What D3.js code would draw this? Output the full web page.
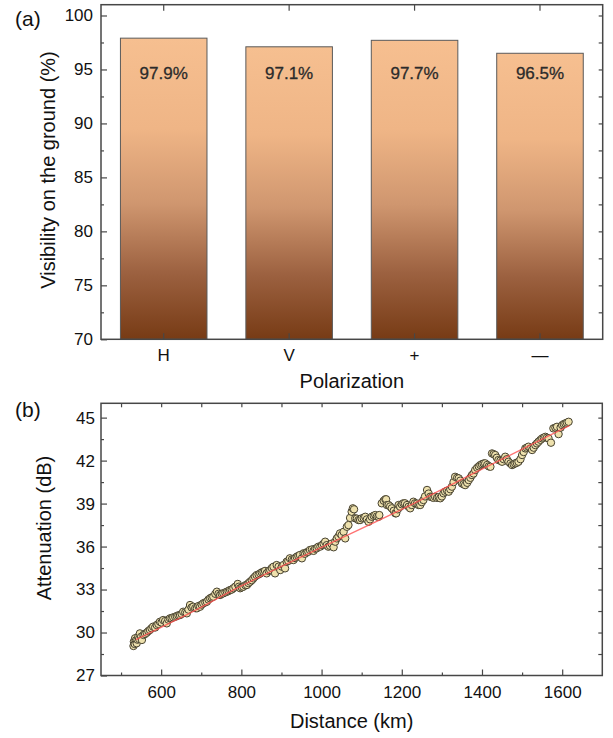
<!DOCTYPE html>
<html>
<head>
<meta charset="utf-8">
<script src="https://cdn.jsdelivr.net/npm/d3@7"></script>
<style>
  body { margin: 0; background: #fff; }
  svg { display: block; font-family: "Liberation Sans", Arial, sans-serif; }
</style>
</head>
<body>
<div id="chart"></div>
<script>
// (a) visibility per polarization
const polarizations = ["H", "V", "+", "\u2014"];
const visibility = [97.9, 97.1, 97.7, 96.5];
const visTicks = [70, 75, 80, 85, 90, 95, 100];

// (b) attenuation vs distance
const distance = [531, 532, 534, 535, 537, 539, 541, 543, 545, 547, 550, 552, 556, 560, 564, 568, 572, 576, 580, 585,
  589, 593, 597, 601, 605, 610, 614, 618, 622, 626, 630, 635, 639, 643, 647, 651, 655, 660, 664, 668,
  672, 676, 680, 685, 689, 693, 697, 701, 705, 710, 714, 718, 722, 726, 730, 735, 739, 743, 747, 751,
  755, 760, 764, 768, 772, 776, 780, 785, 791, 794, 797, 801, 805, 810, 814, 818, 822, 826, 830, 834,
  838, 843, 847, 851, 855, 859, 863, 868, 872, 876, 880, 884, 888, 893, 897, 901, 905, 909, 913, 917,
  921, 926, 930, 934, 938, 942, 946, 951, 955, 959, 963, 967, 971, 976, 980, 984, 988, 992, 997, 1001,
  1005, 1009, 1013, 1017, 1021, 1025, 1030, 1034, 1038, 1042, 1046, 1050, 1055, 1059, 1063, 1067, 1071, 1075, 1078, 1081,
  1084, 1088, 1092, 1096, 1100, 1105, 1109, 1113, 1117, 1121, 1125, 1130, 1134, 1138, 1142, 1144, 1150, 1155, 1159, 1161,
  1163, 1167, 1171, 1175, 1180, 1184, 1186, 1190, 1192, 1196, 1200, 1204, 1208, 1213, 1217, 1221, 1225, 1229, 1233, 1238,
  1242, 1246, 1250, 1254, 1258, 1263, 1267, 1271, 1275, 1279, 1283, 1288, 1292, 1296, 1300, 1304, 1308, 1313, 1317, 1321,
  1325, 1329, 1333, 1338, 1342, 1346, 1350, 1354, 1358, 1363, 1367, 1371, 1375, 1379, 1383, 1388, 1392, 1396, 1400, 1404,
  1408, 1413, 1417, 1421, 1425, 1429, 1433, 1437, 1441, 1446, 1450, 1454, 1458, 1462, 1466, 1471, 1475, 1479, 1483, 1487,
  1491, 1496, 1500, 1504, 1508, 1512, 1516, 1521, 1525, 1529, 1533, 1537, 1541, 1546, 1550, 1554, 1558, 1562, 1566, 1572,
  1578, 1583, 1587, 1591, 1596, 1600, 1604, 1608, 1612, 1616];
const attenuation = [29.06, 29.36, 29.2, 29.6, 29.45, 29.25, 29.5, 29.71, 29.55, 29.94, 29.7, 29.48, 29.83, 29.9, 29.99, 30.1, 30.18, 30.3, 30.41, 30.35,
  30.52, 30.6, 30.75, 30.7, 30.87, 30.8, 30.64, 30.9, 30.99, 31.0, 31.06, 31.1, 31.15, 31.2, 31.22, 31.3, 31.45, 31.4, 31.34, 31.6,
  31.92, 31.75, 31.8, 31.7, 31.69, 31.85, 31.8, 31.95, 32.04, 32.1, 32.15, 32.3, 32.39, 32.45, 32.5, 32.7, 32.85, 32.7, 32.62, 32.7,
  32.74, 32.8, 32.85, 32.9, 32.97, 33.0, 33.09, 33.2, 33.39, 33.2, 33.09, 33.15, 33.2, 33.3, 33.32, 33.45, 33.55, 33.65, 33.78, 33.9,
  34.01, 34.05, 34.13, 34.2, 34.24, 34.3, 34.13, 34.3, 34.36, 34.5, 34.59, 34.13, 34.71, 34.6, 34.36, 34.6, 34.71, 34.48, 34.94, 35.0,
  35.18, 35.1, 35.06, 35.2, 35.29, 35.35, 35.41, 35.18, 35.53, 35.5, 35.6, 35.64, 35.76, 35.8, 35.7, 35.85, 35.88, 35.99, 36.0, 36.1,
  36.2, 36.34, 36.1, 35.99, 36.05, 36.2, 35.95, 36.34, 36.57, 36.7, 36.92, 36.8, 37.03, 36.57, 37.38, 37.5, 38.0, 38.43, 38.67, 38.6,
  37.97, 37.95, 37.85, 37.85, 37.97, 38.0, 38.08, 37.9, 37.73, 37.9, 38.08, 38.15, 38.2, 38.1, 38.08, 38.2, 39.02, 39.2, 39.3, 39.3,
  38.9, 38.9, 38.8, 38.67, 38.5, 38.32, 38.32, 38.6, 38.9, 38.78, 38.95, 39.02, 39.02, 38.9, 38.78, 38.67, 38.9, 39.13, 39.02, 39.0,
  38.9, 38.9, 39.1, 39.25, 39.5, 39.95, 39.7, 39.48, 39.45, 39.4, 39.48, 39.4, 39.45, 39.37, 39.5, 39.72, 39.83, 39.9, 39.83, 40.0,
  40.18, 40.5, 40.87, 40.8, 40.76, 40.6, 40.41, 40.35, 40.29, 40.45, 40.64, 40.8, 40.99, 41.1, 41.34, 41.5, 41.6, 41.69, 41.75, 41.8,
  41.81, 41.7, 41.6, 41.57, 42.5, 42.45, 42.39, 42.2, 42.04, 42.0, 41.92, 42.1, 42.27, 42.1, 41.92, 41.8, 41.69, 41.75, 41.81, 41.85,
  41.92, 42.1, 42.39, 42.6, 42.85, 42.9, 42.97, 42.85, 42.74, 42.9, 43.08, 43.2, 43.32, 43.45, 43.55, 43.6, 43.66, 43.6, 43.55, 43.25,
  44.25, 44.3, 44.36, 43.85, 44.3, 44.48, 44.55, 44.6, 44.65, 44.71];
// red fitted trend
const fitDistance = [537, 650, 800, 1000, 1200, 1400, 1618];
const fitAttenuation = [29.5, 31.05, 33.25, 35.95, 38.6, 41.4, 44.45];
const distTicks = [600, 800, 1000, 1200, 1400, 1600];
const attTicks = [27, 30, 33, 36, 39, 42, 45];

const W = 613, H = 738;
const svg = d3.select("#chart").append("svg").attr("width", W).attr("height", H);
svg.append("rect").attr("width", W).attr("height", H).attr("fill", "#fff");

const frameColor = "#474747";
const fontTick = 17, fontLabel = 20;

// gradient for the bars
const defs = svg.append("defs");
const grad = defs.append("linearGradient").attr("id", "barGrad")
  .attr("x1", 0).attr("y1", 0).attr("x2", 0).attr("y2", 1);
[[0, "#f6bf90"], [0.3, "#efb586"], [0.55, "#cf966f"], [0.78, "#9c6140"], [1, "#773b15"]]
  .forEach(s => grad.append("stop").attr("offset", s[0]).attr("stop-color", s[1]));

function styleAxis(g, size) {
  g.select(".domain").remove();
  g.selectAll(".tick line").attr("stroke", frameColor).attr("stroke-width", 1.2);
  g.selectAll(".tick text").attr("fill", "#111").style("font-size", size + "px")
    .style("font-family", "'Liberation Sans', Arial, sans-serif");
}

// ---------------- panel (a) ----------------
const a = {left: 101, right: 602.7, top: 4.7, bottom: 339.3};
const xa = d3.scaleBand().domain(polarizations).range([a.left, a.right])
  .paddingInner(0.31).paddingOuter(0.155);
const ya = d3.scaleLinear().domain([70, 101]).range([a.bottom, a.top]);
const minorA = d3.range(72.5, 101, 5);

const ga = svg.append("g");
ga.selectAll(".bar").data(polarizations).enter().append("rect")
  .attr("class", "bar")
  .attr("x", d => xa(d))
  .attr("width", xa.bandwidth())
  .attr("y", (d, i) => ya(visibility[i]))
  .attr("height", (d, i) => ya(70) - ya(visibility[i]))
  .attr("fill", "url(#barGrad)")
  .attr("stroke", "#5a5a5a").attr("stroke-width", 1);

ga.selectAll(".val").data(polarizations).enter().append("text")
  .attr("x", d => xa(d) + xa.bandwidth() / 2)
  .attr("y", ya(95) + 10)
  .attr("text-anchor", "middle")
  .attr("fill", "#2b2b2b")
  .attr("stroke", "#2b2b2b").attr("stroke-width", 0.3)
  .style("font-size", "17px")
  .text((d, i) => visibility[i].toFixed(1) + "%");

// axes (ticks point inward)
ga.append("g").attr("transform", `translate(${a.left},0)`)
  .call(d3.axisLeft(ya).tickValues(visTicks).tickSize(-6).tickPadding(8))
  .call(g => styleAxis(g, fontTick));
ga.append("g").attr("transform", `translate(${a.left},0)`)
  .call(d3.axisLeft(ya).tickValues(minorA).tickSize(-3).tickFormat(""))
  .call(g => styleAxis(g, fontTick));
ga.append("g").attr("transform", `translate(${a.right},0)`)
  .call(d3.axisRight(ya).tickValues(d3.range(72.5, 101, 2.5)).tickSize(-4).tickFormat(""))
  .call(g => styleAxis(g, fontTick));
ga.append("g").attr("transform", `translate(0,${a.bottom})`)
  .call(d3.axisBottom(xa).tickSize(-6).tickPadding(10))
  .call(g => styleAxis(g, fontTick));
ga.append("g").attr("transform", `translate(0,${a.top})`)
  .call(d3.axisTop(xa).tickSize(-6).tickFormat(""))
  .call(g => styleAxis(g, fontTick));

ga.append("rect").attr("x", a.left).attr("y", a.top)
  .attr("width", a.right - a.left).attr("height", a.bottom - a.top)
  .attr("fill", "none").attr("stroke", frameColor).attr("stroke-width", 1.5);

ga.append("text").attr("transform", "translate(55,170) rotate(-90)")
  .attr("text-anchor", "middle").style("font-size", fontLabel + "px").attr("fill", "#111")
  .text("Visibility on the ground (%)");
ga.append("text").attr("x", (a.left + a.right) / 2).attr("y", 388)
  .attr("text-anchor", "middle").style("font-size", fontLabel + "px").attr("fill", "#111")
  .text("Polarization");
ga.append("text").attr("x", 15).attr("y", 25.5)
  .style("font-size", "21px").attr("fill", "#111").text("(a)");

// ---------------- panel (b) ----------------
const b = {left: 101, right: 602.3, top: 403.3, bottom: 675.5};
const xb = d3.scaleLinear().domain([450, 1700]).range([b.left, b.right]);
const yb = d3.scaleLinear().domain([27, 46]).range([b.bottom, b.top]);
const points = distance.map((d, i) => ({d: d, v: attenuation[i]}));
const fit = fitDistance.map((d, i) => ({d: d, v: fitAttenuation[i]}));

const gb = svg.append("g");
gb.selectAll(".pt").data(points).enter().append("circle")
  .attr("class", "pt")
  .attr("cx", p => xb(p.d))
  .attr("cy", p => yb(p.v))
  .attr("r", 3.7)
  .attr("fill", "#eee1ad")
  .attr("stroke", "#46412f").attr("stroke-width", 1);

gb.append("path").datum(fit)
  .attr("d", d3.line().x(p => xb(p.d)).y(p => yb(p.v)).curve(d3.curveMonotoneX))
  .attr("fill", "none").attr("stroke", "#ff5050").attr("stroke-width", 1.4).attr("opacity", 0.8);

gb.append("g").attr("transform", `translate(${b.left},0)`)
  .call(d3.axisLeft(yb).tickValues(attTicks).tickSize(-6).tickPadding(6))
  .call(g => styleAxis(g, fontTick));
gb.append("g").attr("transform", `translate(${b.left},0)`)
  .call(d3.axisLeft(yb).tickValues(d3.range(28.5, 46, 3)).tickSize(-3).tickFormat(""))
  .call(g => styleAxis(g, fontTick));
gb.append("g").attr("transform", `translate(${b.right},0)`)
  .call(d3.axisRight(yb).tickValues(d3.range(28.5, 46, 1.5)).tickSize(-4).tickFormat(""))
  .call(g => styleAxis(g, fontTick));
gb.append("g").attr("transform", `translate(0,${b.bottom})`)
  .call(d3.axisBottom(xb).tickValues(distTicks).tickSize(-6).tickPadding(10).tickFormat(d3.format("d")))
  .call(g => styleAxis(g, fontTick));
gb.append("g").attr("transform", `translate(0,${b.bottom})`)
  .call(d3.axisBottom(xb).tickValues(d3.range(500, 1700, 200)).tickSize(-3).tickFormat(""))
  .call(g => styleAxis(g, fontTick));
gb.append("g").attr("transform", `translate(0,${b.top})`)
  .call(d3.axisTop(xb).tickValues(d3.range(500, 1700, 100)).tickSize(-4).tickFormat(""))
  .call(g => styleAxis(g, fontTick));

gb.append("rect").attr("x", b.left).attr("y", b.top)
  .attr("width", b.right - b.left).attr("height", b.bottom - b.top)
  .attr("fill", "none").attr("stroke", frameColor).attr("stroke-width", 1.5);

gb.append("text").attr("transform", "translate(51,528) rotate(-90)")
  .attr("text-anchor", "middle").style("font-size", fontLabel + "px").attr("fill", "#111")
  .text("Attenuation (dB)");
gb.append("text").attr("x", (b.left + b.right) / 2).attr("y", 728)
  .attr("text-anchor", "middle").style("font-size", fontLabel + "px").attr("fill", "#111")
  .text("Distance (km)");
gb.append("text").attr("x", 15).attr("y", 417)
  .style("font-size", "21px").attr("fill", "#111").text("(b)");
</script>
</body>
</html>
